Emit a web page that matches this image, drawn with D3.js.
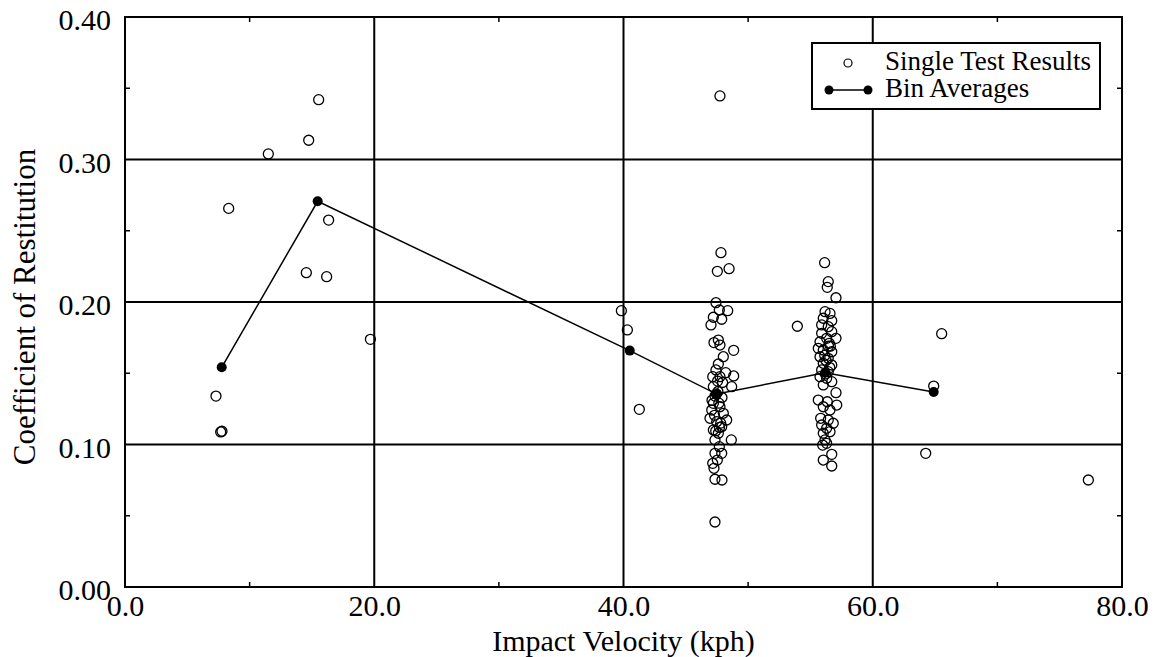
<!DOCTYPE html>
<html>
<head>
<meta charset="utf-8">
<script src="https://cdn.jsdelivr.net/npm/d3@7"></script>
<style>
  body { margin: 0; background: #fff; }
</style>
</head>
<body>
<div id="chart"></div>
<script>
// single test results (impact velocity kph, coefficient of restitution)
const singleVel = [
  7.30, 7.68, 7.78, 8.32, 11.5, 14.55, 14.74, 15.54, 16.18, 16.34, 19.69,
  39.83, 40.31, 41.27, 47.74, 53.95, 64.25, 64.89, 65.53, 77.30,
  // cluster near 47.5
  47.82, 47.53, 48.47, 47.42, 47.69, 48.36, 47.21, 47.88, 47.02, 47.26,
  47.61, 47.74, 48.84, 48.01, 47.61, 47.42, 48.20, 48.84, 47.74, 47.16,
  48.68, 47.21, 47.58, 47.34, 47.90, 47.10, 47.21, 47.74, 47.08, 48.01,
  48.28, 46.94, 47.48, 47.88, 47.21, 47.61, 48.65, 47.34, 47.69, 47.34,
  47.88, 47.53, 47.16, 47.26, 47.34, 47.90, 47.34,
  47.45, 47.65, 47.30, 47.80, 47.55, 47.95, 47.40, 47.70,
  // cluster near 56.3
  56.14, 56.43, 56.35, 57.05, 56.17, 56.57, 56.03, 56.71, 55.90, 56.43,
  56.71, 55.90, 56.30, 57.05, 55.77, 56.51, 55.63, 56.03, 56.71, 55.77,
  56.43, 56.03, 56.71, 55.90, 56.43, 55.77, 56.30, 56.71, 56.03, 57.05,
  55.63, 56.35, 57.11, 56.03, 56.57, 55.82, 56.43, 56.83, 55.90, 56.30,
  56.57, 56.03, 56.17, 55.98, 56.30, 56.71, 56.03, 56.71,
  56.25, 56.55, 56.15, 56.60, 56.20, 56.45
];
const singleCoef = [
  0.134, 0.1088, 0.1093, 0.2657, 0.3039, 0.2206, 0.3135, 0.342, 0.2178, 0.2575, 0.1738,
  0.1939, 0.1804, 0.1247, 0.3446, 0.183, 0.0938, 0.141, 0.1778, 0.0751,
  0.2346, 0.2215, 0.2234, 0.1995, 0.1944, 0.1939, 0.1893, 0.1879, 0.1839, 0.1715,
  0.1733, 0.1698, 0.1661, 0.1616, 0.1565, 0.1523, 0.1504, 0.1481, 0.1476, 0.1476,
  0.1406, 0.1406, 0.1372, 0.1340, 0.1330, 0.1310, 0.1289, 0.1265, 0.1242, 0.1219,
  0.1172, 0.1184, 0.1160, 0.1125, 0.1102, 0.1079, 0.1032, 0.1032, 0.0985, 0.0938,
  0.0938, 0.0891, 0.0868, 0.0833, 0.0756, 0.0751, 0.0456,
  0.1355, 0.1290, 0.1205, 0.1150, 0.1445, 0.1435, 0.1095, 0.1120,
  0.2276, 0.2143, 0.2103, 0.2030, 0.1932, 0.1920, 0.1886, 0.1869, 0.1839, 0.1827,
  0.1792, 0.1780, 0.1745, 0.1745, 0.1721, 0.1710, 0.1675, 0.1663, 0.1651, 0.1616,
  0.1605, 0.1570, 0.1558, 0.1523, 0.1511, 0.1476, 0.1465, 0.1441, 0.1418, 0.1364,
  0.1312, 0.1300, 0.1277, 0.1265, 0.1242, 0.1184, 0.1172, 0.1149, 0.1137, 0.1114,
  0.1090, 0.1079, 0.1032, 0.0996, 0.1008, 0.0931, 0.0891, 0.0849,
  0.1590, 0.1540, 0.1625, 0.1690, 0.1495, 0.1690
];

// bin averages
const binVel = [7.76, 15.46, 40.50, 47.47, 56.17, 64.89];
const binCoef = [0.1542, 0.2707, 0.1659, 0.1354, 0.1504, 0.1368];

const xMajor = [0, 20, 40, 60, 80];
const xMinor = [10, 30, 50, 70];
const yMajor = [0, 0.1, 0.2, 0.3, 0.4];
const yMinor = [0.05, 0.15, 0.25, 0.35];

const legendLabels = ["Single Test Results", "Bin Averages"];

const W = 1161, H = 657;
const margin = {left: 125, right: 39, top: 17, bottom: 70};
const width = W - margin.left - margin.right;
const height = H - margin.top - margin.bottom;
const serif = "'Liberation Serif', 'Times New Roman', serif";

const svg = d3.select("#chart")
    .append("svg")
    .attr("width", W)
    .attr("height", H)
    .style("font-family", serif);

const x = d3.scaleLinear().domain([0, 80]).range([0, width]);
const y = d3.scaleLinear().domain([0, 0.40]).range([height, 0]);

const g = svg.append("g")
    .attr("transform", `translate(${margin.left},${margin.top})`);

// grid lines at major ticks
g.append("g")
    .selectAll("line")
    .data(xMajor.slice(1, -1))
    .enter()
    .append("line")
      .attr("x1", d => x(d)).attr("x2", d => x(d))
      .attr("y1", 0).attr("y2", height)
      .attr("stroke", "#000").attr("stroke-width", 2);
g.append("g")
    .selectAll("line")
    .data(yMajor.slice(1, -1))
    .enter()
    .append("line")
      .attr("y1", d => y(d)).attr("y2", d => y(d))
      .attr("x1", 0).attr("x2", width)
      .attr("stroke", "#000").attr("stroke-width", 2);

// minor ticks inward on all sides
const tickLen = 5;
const minor = g.append("g").attr("stroke", "#000").attr("stroke-width", 1.5);
xMinor.forEach(d => {
  minor.append("line").attr("x1", x(d)).attr("x2", x(d)).attr("y1", height).attr("y2", height - tickLen);
  minor.append("line").attr("x1", x(d)).attr("x2", x(d)).attr("y1", 0).attr("y2", tickLen);
});
yMinor.forEach(d => {
  minor.append("line").attr("y1", y(d)).attr("y2", y(d)).attr("x1", 0).attr("x2", tickLen);
  minor.append("line").attr("y1", y(d)).attr("y2", y(d)).attr("x1", width).attr("x2", width - tickLen);
});

// frame
g.append("rect")
    .attr("width", width).attr("height", height)
    .attr("fill", "none").attr("stroke", "#000").attr("stroke-width", 2);

// tick labels via d3 axes (no domain, no tick marks)
const xAxis = d3.axisBottom(x).tickValues(xMajor).tickFormat(d3.format(".1f")).tickSize(0).tickPadding(0);
const yAxis = d3.axisLeft(y).tickValues(yMajor).tickFormat(d3.format(".2f")).tickSize(0).tickPadding(0);

g.append("g")
    .attr("transform", `translate(0,${height})`)
    .call(xAxis)
    .call(s => s.select(".domain").remove())
    .selectAll("text")
      .style("font-family", serif)
      .style("font-size", "30px")
      .attr("fill", "#000")
      .attr("y", 29).attr("dy", 0);

g.append("g")
    .call(yAxis)
    .call(s => s.select(".domain").remove())
    .selectAll("text")
      .style("font-family", serif)
      .style("font-size", "30px")
      .attr("fill", "#000")
      .attr("x", -14).attr("dy", "0.42em");

// axis titles
svg.append("text")
    .attr("x", margin.left + width / 2).attr("y", 651)
    .attr("text-anchor", "middle")
    .style("font-size", "30px")
    .text("Impact Velocity (kph)");
svg.append("text")
    .attr("transform", `translate(35,${margin.top + height / 2 + 5}) rotate(-90)`)
    .attr("text-anchor", "middle")
    .style("font-size", "31px")
    .text("Coefficient of Restitution");

// single test points
const singles = singleVel.map((v, i) => ({v: v, c: singleCoef[i]}));
g.append("g")
    .selectAll("circle")
    .data(singles)
    .enter()
    .append("circle")
      .attr("cx", d => x(d.v))
      .attr("cy", d => y(d.c))
      .attr("r", 5)
      .attr("fill", "none")
      .attr("stroke", "#000")
      .attr("stroke-width", 1.3);

// bin averages line + dots
const bins = binVel.map((v, i) => ({v: v, c: binCoef[i]}));
g.append("path")
    .datum(bins)
    .attr("fill", "none")
    .attr("stroke", "#000")
    .attr("stroke-width", 1.5)
    .attr("d", d3.line().x(d => x(d.v)).y(d => y(d.c)));
g.append("g")
    .selectAll("circle")
    .data(bins)
    .enter()
    .append("circle")
      .attr("cx", d => x(d.v))
      .attr("cy", d => y(d.c))
      .attr("r", 5)
      .attr("fill", "#000");

// legend
const lg = svg.append("g").attr("transform", "translate(812,43)");
lg.append("rect")
    .attr("width", 288).attr("height", 66)
    .attr("fill", "#fff").attr("stroke", "#000").attr("stroke-width", 2);
lg.append("circle").attr("cx", 36).attr("cy", 20).attr("r", 4)
    .attr("fill", "none").attr("stroke", "#000").attr("stroke-width", 1.2);
lg.append("line").attr("x1", 17).attr("x2", 56).attr("y1", 47).attr("y2", 47)
    .attr("stroke", "#000").attr("stroke-width", 1.5);
lg.append("circle").attr("cx", 17).attr("cy", 47).attr("r", 4.5).attr("fill", "#000");
lg.append("circle").attr("cx", 56).attr("cy", 47).attr("r", 4.5).attr("fill", "#000");
lg.selectAll("text.lab")
    .data(legendLabels)
    .enter()
    .append("text")
      .attr("class", "lab")
      .attr("x", 73)
      .attr("y", (d, i) => 27 + i * 27)
      .style("font-size", "27px")
      .text(d => d);
</script>
</body>
</html>
